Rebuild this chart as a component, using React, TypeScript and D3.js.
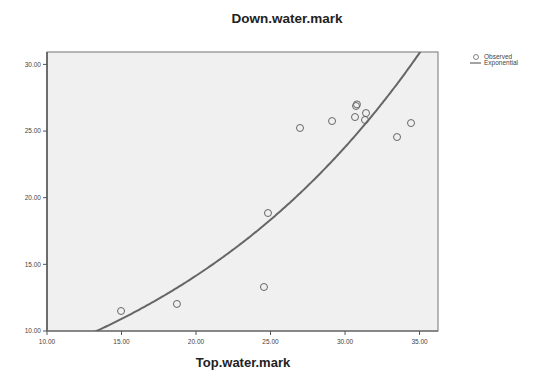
import React from 'react';
import * as d3 from 'd3';

// observed points (Top.water.mark, Down.water.mark)
const topMark = [14.97, 18.72, 24.56, 24.83, 26.98, 29.13, 30.74, 30.8, 30.67, 31.41, 31.34, 33.49, 34.43];
const downMark = [11.5, 12.03, 13.3, 18.85, 25.23, 25.75, 26.88, 27.0, 26.05, 26.35, 25.83, 24.55, 25.6];

// exponential fit: y = a * exp(b * x)
const expA = 5.0;
const expB = 0.052;

const xTicks = [10, 15, 20, 25, 30, 35];
const yTicks = [10, 15, 20, 25, 30];
const legendLabels = ['Observed', 'Exponential'];

const W = 537;
const H = 371;
const plot = { left: 47, top: 52, right: 438, bottom: 331 };

const App = () => {
    const x = d3.scaleLinear().domain([10, 36.24]).range([plot.left, plot.right]);
    const y = d3.scaleLinear().domain([10, 30.93]).range([plot.bottom, plot.top]);

    // curve samples along x, clipped to plot
    const xs = d3.range(10, 36.25, 0.1);
    const line = d3.line<number>()
        .x(d => x(d))
        .y(d => y(expA * Math.exp(expB * d)));

    const font = 'Arial, "Liberation Sans", sans-serif';

    return (
        <svg width={W} height={H} style={{ position: 'absolute', left: 0, top: 0, background: '#fff' }}>
            <defs>
                <clipPath id="plotClip">
                    <rect x={plot.left} y={plot.top} width={plot.right - plot.left} height={plot.bottom - plot.top} />
                </clipPath>
            </defs>
            <text x={287} y={23} textAnchor="middle" fontFamily={font} fontWeight="bold" fontSize={13.5} fill="#222">
                Down.water.mark
            </text>

            {/* plot background and frame */}
            <rect x={plot.left} y={plot.top} width={plot.right - plot.left} height={plot.bottom - plot.top}
                fill="#f0f0f0" stroke="#8a8a8a" strokeWidth={1.2} />
            <line x1={plot.left} x2={plot.left} y1={plot.top} y2={plot.bottom} stroke="#555" strokeWidth={1.5} />
            <line x1={plot.left} x2={plot.right} y1={plot.bottom} y2={plot.bottom} stroke="#777" strokeWidth={1.5} />

            {/* y axis */}
            {yTicks.map(t => (
                <g key={'y' + t}>
                    <line x1={plot.left - 4} x2={plot.left} y1={y(t)} y2={y(t)} stroke="#555" />
                    <text x={plot.left - 6} y={y(t)} dy="0.35em" textAnchor="end" fontFamily={font} fontSize={6.5} fill="#444">
                        {d3.format('.2f')(t)}
                    </text>
                </g>
            ))}

            {/* x axis */}
            {xTicks.map(t => (
                <g key={'x' + t}>
                    <line x1={x(t)} x2={x(t)} y1={plot.bottom} y2={plot.bottom + 4} stroke="#555" />
                    <text x={x(t)} y={plot.bottom + 13} textAnchor="middle" fontFamily={font} fontSize={6.5} fill="#444">
                        {d3.format('.2f')(t)}
                    </text>
                </g>
            ))}
            <text x={243} y={367} textAnchor="middle" fontFamily={font} fontWeight="bold" fontSize={13} fill="#222">
                Top.water.mark
            </text>

            {/* fitted curve */}
            <path d={line(xs) || ''} fill="none" stroke="#666" strokeWidth={2} clipPath="url(#plotClip)" />

            {/* observed points */}
            {topMark.map((v, i) => (
                <circle key={i} cx={x(v)} cy={y(downMark[i])} r={3.5} fill="none" stroke="#666" strokeWidth={1} />
            ))}

            {/* legend */}
            <circle cx={476} cy={57} r={2.5} fill="none" stroke="#666" strokeWidth={0.8} />
            <text x={484} y={57} dy="0.35em" fontFamily={font} fontSize={6.5} fill="#444">{legendLabels[0]}</text>
            <line x1={470} x2={481} y1={63} y2={63} stroke="#666" strokeWidth={1.2} />
            <text x={484} y={63} dy="0.35em" fontFamily={font} fontSize={6.5} fill="#444">{legendLabels[1]}</text>
        </svg>
    );
};

export default App;
